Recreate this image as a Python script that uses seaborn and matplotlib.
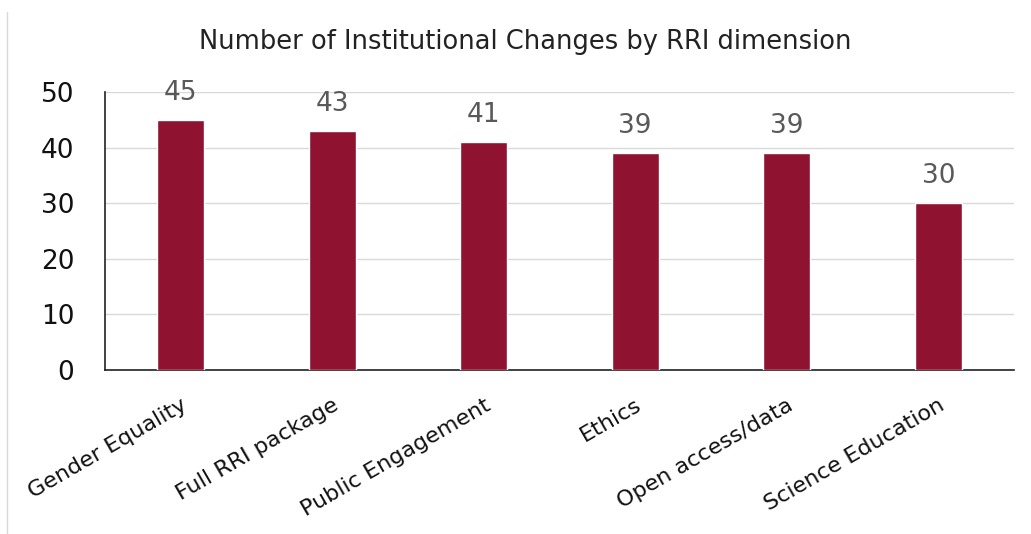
import matplotlib
matplotlib.use("Agg")
import matplotlib.pyplot as plt
import seaborn as sns
import pandas as pd
from matplotlib.lines import Line2D

categories = ["Gender Equality", "Full RRI package", "Public Engagement",
              "Ethics", "Open access/data", "Science Education"]
values = [45, 43, 41, 39, 39, 30]
yticks = [0, 10, 20, 30, 40, 50]
title = "Number of Institutional Changes by RRI dimension"

df = pd.DataFrame({"dim": categories, "n": values})

sns.set_theme(style="white")
plt.rcParams['font.family'] = ['DejaVu Sans']

fig = plt.figure(figsize=(10.31, 5.34), dpi=100)
ax = fig.add_axes([105/1031, 1-370/534, (1014-105)/1031, (370-92)/534])

sns.barplot(data=df, x="dim", y="n", color="#8F1331", width=0.31,
            saturation=1, ax=ax, zorder=3)

ax.set_ylim(0, 50)
ax.set_yticks(yticks)
ax.set_yticklabels([str(t) for t in yticks], fontsize=19, color="#111111")
ax.tick_params(axis="y", length=0, pad=22)
ax.tick_params(axis="x", length=0, pad=18)
ax.set_xlim(-0.5, len(categories) - 0.5)
ax.yaxis.grid(True, color="#D9D9D9", linewidth=1, zorder=0)
ax.set_axisbelow(True)
ax.set_xlabel("")
ax.set_ylabel("")
for s in ["top", "right"]:
    ax.spines[s].set_visible(False)
for s in ["left", "bottom"]:
    ax.spines[s].set_color("#222222")
    ax.spines[s].set_linewidth(1.2)

ax.set_xticks(range(len(categories)))
ax.set_xticklabels(categories, rotation=30, ha="right",
                   rotation_mode="anchor", fontsize=16, color="#111111")

for c in ax.containers:
    ax.bar_label(c, labels=[str(v) for v in values], padding=10,
                 fontsize=19, color="#595959")

fig.text(525/1031, 1-42/534, title, ha="center", va="center",
         fontsize=18.5, color="#222222")

fig.add_artist(Line2D([7/1031, 7/1031], [0, 1-12/534],
                      transform=fig.transFigure, color="#D9D9D9", linewidth=1))

fig.savefig("out.png", dpi=100)
